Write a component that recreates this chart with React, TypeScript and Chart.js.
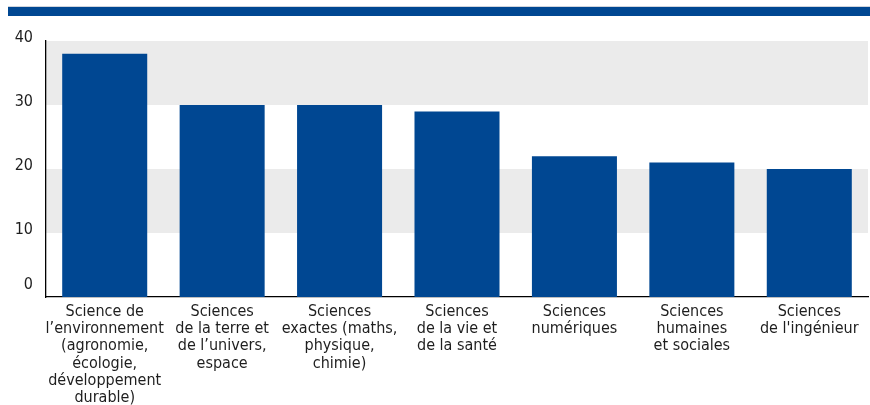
import React, { useEffect, useRef } from "react";
import { Chart, registerables } from "chart.js";

Chart.register(...registerables);

const categories: string[][] = [
  ["Science de", "l\u2019environnement", "(agronomie,", "écologie,", "développement", "durable)"],
  ["Sciences", "de la terre et", "de l\u2019univers,", "espace"],
  ["Sciences", "exactes (maths,", "physique,", "chimie)"],
  ["Sciences", "de la vie et", "de la santé"],
  ["Sciences", "numériques"],
  ["Sciences", "humaines", "et sociales"],
  ["Sciences", "de l'ingénieur"],
];
const values: number[] = [38, 30, 30, 29, 22, 21, 20];
const yMin = 0;
const yMax = 40;
const yStep = 10;
const bands: [number, number][] = [
  [10, 20],
  [30, 40],
];

const BLUE = "#004792";
const TEXT = "#1e1e1e";
const FONT = "'Liberation Sans Narrow', 'DejaVu Sans Condensed', 'Arial Narrow', sans-serif";

const bandPlugin = {
  id: "bands",
  beforeDraw(chart: any) {
    const { ctx, chartArea, scales } = chart;
    const y = scales.y;
    ctx.save();
    ctx.fillStyle = "#ebebeb";
    for (const [a, b] of bands) {
      const top = y.getPixelForValue(b);
      const bot = y.getPixelForValue(a);
      ctx.fillRect(chartArea.left, top, chartArea.right - chartArea.left, bot - top);
    }
    ctx.restore();
  },
};

export default function App() {
  const ref = useRef<HTMLCanvasElement | null>(null);

  useEffect(() => {
    if (!ref.current) return;
    const chart = new Chart(ref.current, {
      type: "bar",
      data: {
        labels: categories,
        datasets: [
          {
            data: values,
            backgroundColor: BLUE,
            borderWidth: 0,
            categoryPercentage: 1,
            barPercentage: 0.724,
          },
        ],
      },
      options: {
        animation: false,
        responsive: true,
        maintainAspectRatio: false,
        layout: { padding: { top: 41, right: 2, left: 0, bottom: 0 } },
        plugins: {
          legend: { display: false },
          tooltip: { enabled: false },
        },
        scales: {
          x: {
            grid: { display: false, drawTicks: false },
            border: { display: true, color: "#000", width: 1.3 },
            ticks: {
              color: TEXT,
              font: { family: FONT, size: 16, lineHeight: 1.08 },
              padding: 6,
              maxRotation: 0,
              autoSkip: false,
            },
            afterFit(scale: any) {
              scale.height = 108;
            },
          },
          y: {
            min: yMin,
            max: yMax,
            grid: { display: false, drawTicks: false },
            border: { display: true, color: "#000", width: 1.3 },
            ticks: {
              stepSize: yStep,
              color: TEXT,
              font: { family: FONT, size: 16, lineHeight: 1.1 },
              padding: 13,
              labelOffset: -3,
              callback: (v: any) => (Number(v) === 0 ? ["0", ""] : String(v)),
            },
            afterFit(scale: any) {
              scale.width = 46;
            },
          },
        },
      },
      plugins: [bandPlugin],
    });
    return () => chart.destroy();
  }, []);

  return (
    <div style={{ position: "fixed", left: 0, top: 0, width: 870, height: 405, background: "#fff", overflow: "hidden" }}>
      <div
        style={{
          position: "absolute",
          left: 8,
          top: 6,
          width: 862,
          height: 9,
          background: BLUE,
          borderTop: "1px solid #d0d4dc",
        }}
      />
      <div style={{ position: "absolute", left: 0, top: 0, width: 870, height: 405 }}>
        <canvas ref={ref} />
      </div>
    </div>
  );
}
